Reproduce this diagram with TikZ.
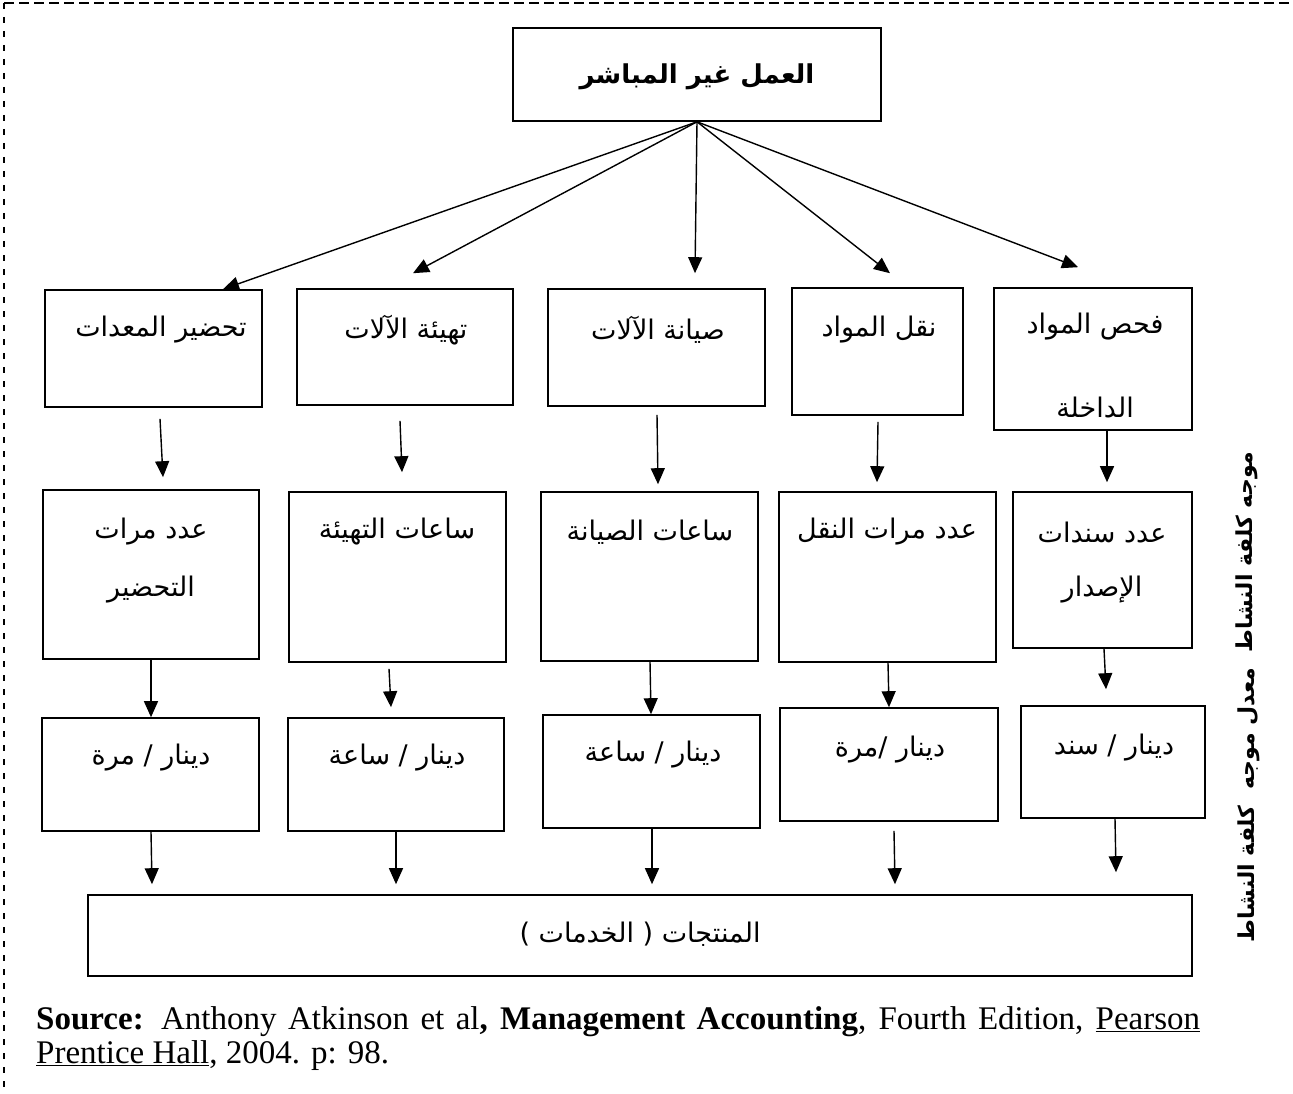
\documentclass[tikz,border=0pt]{standalone}
\usepackage{fontspec}
\setmainfont{Liberation Serif}
\newfontfamily\arfont[Script=Arabic]{DejaVu Sans}
\TeXXeTstate=1
\usetikzlibrary{arrows.meta}
\newcommand{\AR}[1]{{\arfont\beginR #1\endR}}
% \boxnode{name}{left}{top}{right}{bottom}
\newcommand{\boxnode}[5]{\node[box, minimum width={(#4)-(#2)}, minimum height={(#5)-(#3)}] (#1) at ({((#2)+(#4))/2},{((#3)+(#5))/2}) {};}
\begin{document}
\begin{tikzpicture}[x=1pt,y=-1pt,
  box/.style={draw, line width=1.6pt, inner sep=0pt},
  txt/.style={inner sep=0pt, font=\fontsize{27}{32}\selectfont},
  bold/.style={inner sep=0pt, font=\bfseries\fontsize{26}{30}\selectfont},
  side/.style={inner sep=0pt, rotate=90, font=\bfseries\fontsize{22}{26}\selectfont},
  arr/.style={-{Triangle[length=16pt,width=14pt]}, line width=1.4pt}]
\useasboundingbox (0,0) rectangle (1293,1094);

% dashed frame (top and left sides)
\draw[line width=1.4pt, dash pattern=on 10pt off 5pt] (4,3) -- (1293,3);
\draw[line width=1.4pt, dash pattern=on 6pt off 8pt] (4,3) -- (4,1094);

% head box
\boxnode{top}{513}{28}{881}{121}
\node[bold] (topt) at (697,77) {\AR{العمل غير المباشر}};

% activities
\boxnode{b1}{45}{290}{262}{407}
\boxnode{b2}{297}{289}{513}{405}
\boxnode{b3}{548}{289}{765}{406}
\boxnode{b4}{792}{288}{963}{415}
\boxnode{b5}{994}{288}{1192}{430}
\node[txt] (b1t) at (161,330) {\AR{تحضير المعدات}};
\node[txt] (b2t) at (406,330) {\AR{تهيئة الآلات}};
\node[txt] (b3t) at (658,330) {\AR{صيانة الآلات}};
\node[txt] (b4t) at (879,330) {\AR{نقل المواد}};
\node[txt] (b5t) at (1095,327) {\AR{فحص المواد}};
\node[txt] (b5u) at (1095,407) {\AR{الداخلة}};

% cost drivers
\boxnode{c1}{43}{490}{259}{659}
\boxnode{c2}{289}{492}{506}{662}
\boxnode{c3}{541}{492}{758}{661}
\boxnode{c4}{779}{492}{996}{662}
\boxnode{c5}{1013}{492}{1192}{648}
\node[txt] (c1t) at (151,532) {\AR{عدد مرات}};
\node[txt] (c1u) at (151,590) {\AR{التحضير}};
\node[txt] (c2t) at (397,532) {\AR{ساعات التهيئة}};
\node[txt] (c3t) at (650,532) {\AR{ساعات الصيانة}};
\node[txt] (c4t) at (887,532) {\AR{عدد مرات النقل}};
\node[txt] (c5t) at (1102,532) {\AR{عدد سندات}};
\node[txt] (c5u) at (1102,590) {\AR{الإصدار}};

% driver rates
\boxnode{d1}{42}{718}{259}{831}
\boxnode{d2}{288}{718}{504}{831}
\boxnode{d3}{543}{715}{760}{828}
\boxnode{d4}{780}{708}{998}{821}
\boxnode{d5}{1021}{706}{1205}{818}
\node[txt] (d1t) at (151,758) {\AR{دينار / مرة}};
\node[txt] (d2t) at (397,758) {\AR{دينار / ساعة}};
\node[txt] (d3t) at (653,755) {\AR{دينار / ساعة}};
\node[txt] (d4t) at (890,750) {\AR{دينار /مرة}};
\node[txt] (d5t) at (1114,748) {\AR{دينار / سند}};

% products
\boxnode{p}{88}{895}{1192}{976}
\node[txt] (pt) at (640,934) {\AR{المنتجات ( الخدمات )}};

% side captions
\node[side] (s1) at (1247,552) {\AR{موجه كلفة النشاط}};
\node[side] (s2) at (1249,805) {\AR{معدل موجه~~كلفة النشاط}};

% fan-out from the head box
\draw[arr] (top.south) -- (223,0 |- b1.north);
\draw[arr] (top.south) -- ([yshift=15pt]413,0 |- b2.north);
\draw[arr] (top.south) -- ([yshift=15pt]695,0 |- b3.north);
\draw[arr] (top.south) -- ([yshift=14pt]890,0 |- b4.north);
\draw[arr] (top.south) -- ([yshift=20pt]1078,0 |- b5.north);

% activities to drivers
\draw[arr] ([yshift=-11pt]160,0 |- b1.south) -- ([yshift=12pt]163,0 |- c1.north);
\draw[arr] ([yshift=-15pt]400,0 |- b2.south) -- ([yshift=19pt]402,0 |- c2.north);
\draw[arr] ([yshift=-8pt]657,0 |- b3.south) -- ([yshift=7pt]658,0 |- c3.north);
\draw[arr] ([yshift=-6pt]878,0 |- b4.south) -- ([yshift=9pt]877,0 |- c4.north);
\draw[arr] (1107,0 |- b5.south) -- ([yshift=9pt]1107,0 |- c5.north);

% drivers to rates
\draw[arr] (151,0 |- c1.south) -- (151,0 |- d1.north);
\draw[arr] ([yshift=-6pt]389,0 |- c2.south) -- ([yshift=10pt]391,0 |- d2.north);
\draw[arr] (650,0 |- c3.south) -- (651,0 |- d3.north);
\draw[arr] (888,0 |- c4.south) -- (889,0 |- d4.north);
\draw[arr] (1104,0 |- c5.south) -- ([yshift=16pt]1106,0 |- d5.north);

% rates to products
\draw[arr] (151,0 |- d1.south) -- ([yshift=10pt]152,0 |- p.north);
\draw[arr] (396,0 |- d2.south) -- ([yshift=10pt]396,0 |- p.north);
\draw[arr] (652,0 |- d3.south) -- ([yshift=10pt]652,0 |- p.north);
\draw[arr] ([yshift=-9pt]894,0 |- d4.south) -- ([yshift=10pt]895,0 |- p.north);
\draw[arr] (1115,0 |- d5.south) -- ([yshift=22pt]1116,0 |- p.north);

% source line
\node[anchor=north west, inner sep=0pt, text width=1164pt, align=justify,
      font=\fontsize{33}{34}\selectfont] (src) at (36,1006)
  {\textbf{Source:} Anthony Atkinson et al\textbf{, Management Accounting}, Fourth Edition, \underline{Pearson}\linebreak \underline{Prentice Hall}, 2004. p: 98.};
\end{tikzpicture}
\end{document}
